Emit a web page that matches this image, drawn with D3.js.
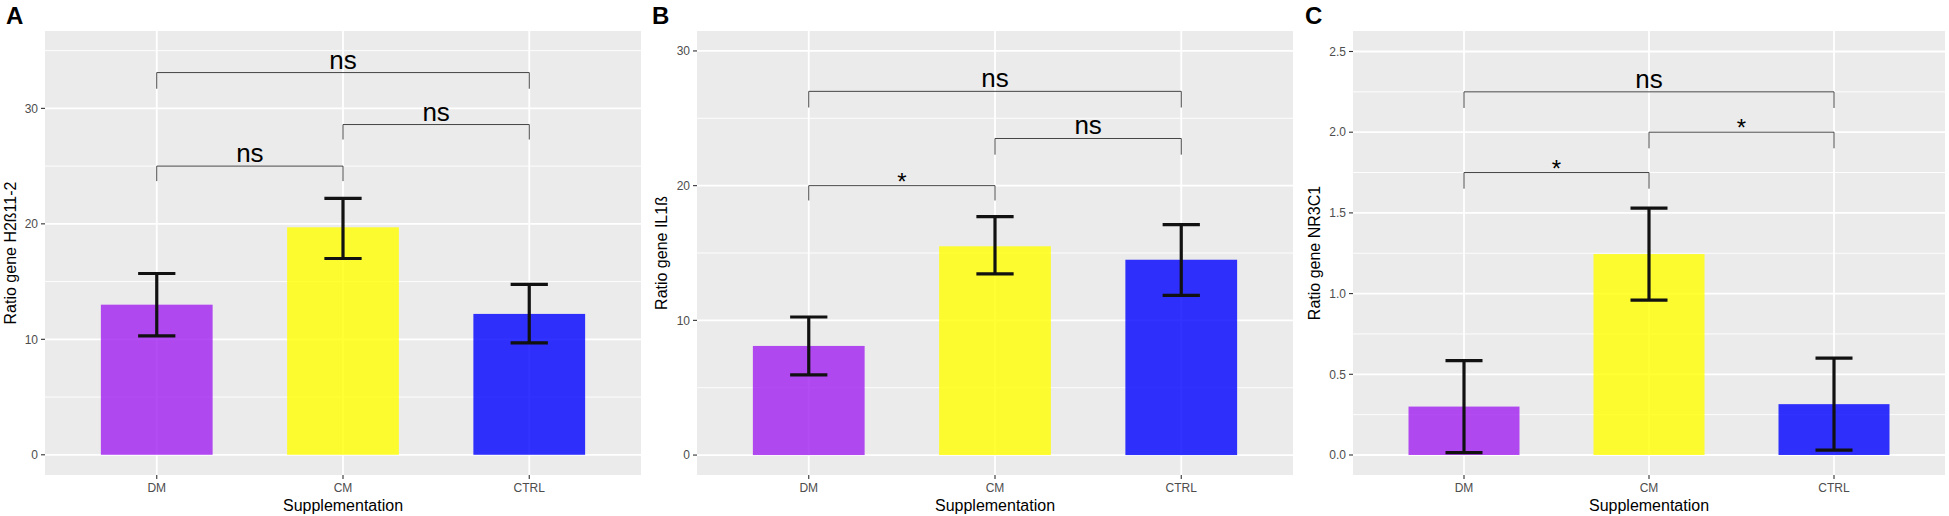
<!DOCTYPE html>
<html>
<head>
<meta charset="utf-8">
<script src="https://cdn.jsdelivr.net/npm/d3@7"></script>
<style>
  body { margin: 0; background: #fff; }
  svg text { font-family: "Liberation Sans", Arial, Helvetica, sans-serif; }
</style>
</head>
<body>
<svg id="chart" width="1949" height="516"></svg>
<script>
// Data
var groups = ["DM", "CM", "CTRL"];
var barColors = ["#A020F0", "#FFFF00", "#0000FF"];

// A: H2B11-2
var meanA = [13.0, 19.7, 12.2];
var upperA = [15.7, 22.2, 14.75];
var lowerA = [10.3, 17.0, 9.7];
var ticksA = [0, 10, 20, 30];
var minorA = [5, 15, 25, 35];
// bracket: [from, to, y, tip end, label]
var bracketsA = [
  ["DM", "CTRL", 33.1, 31.7, "ns"],
  ["DM", "CM", 25.0, 23.7, "ns"],
  ["CM", "CTRL", 28.6, 27.3, "ns"]
];

// B: IL1ß
var meanB = [8.1, 15.5, 14.5];
var upperB = [10.25, 17.7, 17.1];
var lowerB = [5.95, 13.45, 11.85];
var ticksB = [0, 10, 20, 30];
var minorB = [5, 15, 25];
var bracketsB = [
  ["DM", "CTRL", 27.0, 25.8, "ns"],
  ["CM", "CTRL", 23.5, 22.3, "ns"],
  ["DM", "CM", 20.0, 18.9, "*"]
];

// C: NR3C1
var meanC = [0.30, 1.245, 0.315];
var upperC = [0.585, 1.53, 0.60];
var lowerC = [0.015, 0.96, 0.03];
var ticksC = [0, 0.5, 1.0, 1.5, 2.0, 2.5];
var minorC = [0.25, 0.75, 1.25, 1.75, 2.25];
var bracketsC = [
  ["DM", "CTRL", 2.25, 2.15, "ns"],
  ["CM", "CTRL", 2.0, 1.9, "*"],
  ["DM", "CM", 1.75, 1.65, "*"]
];

var panels = [
  { letter: "A", left: 45, right: 641, letterX: 6, titleX: 16,
    yTitle: "Ratio gene H2\u00DF11-2", domain: [-1.75, 36.7],
    mean: meanA, upper: upperA, lower: lowerA, ticks: ticksA, minor: minorA,
    brackets: bracketsA, fmt: d3.format("d") },
  { letter: "B", left: 697, right: 1293, letterX: 652, titleX: 667,
    yTitle: "Ratio gene IL1\u00DF", domain: [-1.48, 31.48],
    mean: meanB, upper: upperB, lower: lowerB, ticks: ticksB, minor: minorB,
    brackets: bracketsB, fmt: d3.format("d") },
  { letter: "C", left: 1353, right: 1945, letterX: 1305, titleX: 1320,
    yTitle: "Ratio gene NR3C1", domain: [-0.124, 2.627],
    mean: meanC, upper: upperC, lower: lowerC, ticks: ticksC, minor: minorC,
    brackets: bracketsC, fmt: d3.format(".1f") }
];

var panelTop = 31, panelBottom = 475;
var svg = d3.select("#chart");

function drawPanel(p) {
  var g = svg.append("g");
  var x = d3.scalePoint().domain(groups).range([p.left, p.right]).padding(0.6);
  var step = x.step();
  var y = d3.scaleLinear().domain(p.domain).range([panelBottom, panelTop]);

  // panel background
  g.append("rect")
    .attr("x", p.left).attr("y", panelTop)
    .attr("width", p.right - p.left).attr("height", panelBottom - panelTop)
    .style("fill", "#EBEBEB");

  // grid
  g.selectAll(".minor").data(p.minor).enter().append("line")
    .attr("x1", p.left).attr("x2", p.right)
    .attr("y1", function(d) { return y(d); }).attr("y2", function(d) { return y(d); })
    .style("stroke", "#fff").style("stroke-width", 0.9);
  g.selectAll(".major").data(p.ticks).enter().append("line")
    .attr("x1", p.left).attr("x2", p.right)
    .attr("y1", function(d) { return y(d); }).attr("y2", function(d) { return y(d); })
    .style("stroke", "#fff").style("stroke-width", 1.8);
  g.selectAll(".vgrid").data(groups).enter().append("line")
    .attr("x1", function(d) { return x(d); }).attr("x2", function(d) { return x(d); })
    .attr("y1", panelTop).attr("y2", panelBottom)
    .style("stroke", "#fff").style("stroke-width", 1.8);

  // bars
  g.selectAll(".bar").data(groups).enter().append("rect")
    .attr("x", function(d) { return x(d) - step * 0.3; })
    .attr("width", step * 0.6)
    .attr("y", function(d, i) { return y(p.mean[i]); })
    .attr("height", function(d, i) { return y(0) - y(p.mean[i]); })
    .style("fill", function(d, i) { return barColors[i]; })
    .style("fill-opacity", 0.8);

  // error bars
  var err = g.selectAll(".err").data(groups).enter().append("g")
    .style("stroke", "#111").style("stroke-width", 3.2).style("fill", "none");
  err.append("line")
    .attr("x1", function(d) { return x(d); }).attr("x2", function(d) { return x(d); })
    .attr("y1", function(d, i) { return y(p.upper[i]); })
    .attr("y2", function(d, i) { return y(p.lower[i]); });
  err.append("line")
    .attr("x1", function(d) { return x(d) - step * 0.1; })
    .attr("x2", function(d) { return x(d) + step * 0.1; })
    .attr("y1", function(d, i) { return y(p.upper[i]); })
    .attr("y2", function(d, i) { return y(p.upper[i]); });
  err.append("line")
    .attr("x1", function(d) { return x(d) - step * 0.1; })
    .attr("x2", function(d) { return x(d) + step * 0.1; })
    .attr("y1", function(d, i) { return y(p.lower[i]); })
    .attr("y2", function(d, i) { return y(p.lower[i]); });

  // significance brackets
  var br = g.selectAll(".br").data(p.brackets).enter().append("g");
  br.append("path")
    .attr("d", function(d) {
      var x1 = x(d[0]), x2 = x(d[1]);
      return "M" + x1 + "," + y(d[3]) + "L" + x1 + "," + y(d[2]) +
             "L" + x2 + "," + y(d[2]) + "L" + x2 + "," + y(d[3]);
    })
    .style("fill", "none").style("stroke", "#444").style("stroke-width", 1);
  br.append("text")
    .attr("x", function(d) { return (x(d[0]) + x(d[1])) / 2; })
    .attr("y", function(d) { return y(d[2]) + (d[4] === "*" ? 4 : -4); })
    .attr("text-anchor", "middle")
    .style("font-size", function(d) { return d[4] === "*" ? "24px" : "26px"; })
    .style("fill", "#000")
    .text(function(d) { return d[4]; });

  // y axis
  var yAxis = g.append("g");
  yAxis.selectAll(".ytick").data(p.ticks).enter().append("line")
    .attr("x1", p.left - 4).attr("x2", p.left)
    .attr("y1", function(d) { return y(d); }).attr("y2", function(d) { return y(d); })
    .style("stroke", "#333").style("stroke-width", 1.1);
  yAxis.selectAll(".ylab").data(p.ticks).enter().append("text")
    .attr("x", p.left - 7)
    .attr("y", function(d) { return y(d) + 4.3; })
    .attr("text-anchor", "end")
    .style("font-size", "12px").style("fill", "#4D4D4D")
    .text(function(d) { return p.fmt(d); });

  // x axis
  var xAxis = g.append("g");
  xAxis.selectAll(".xtick").data(groups).enter().append("line")
    .attr("x1", function(d) { return x(d); }).attr("x2", function(d) { return x(d); })
    .attr("y1", panelBottom).attr("y2", panelBottom + 4)
    .style("stroke", "#333").style("stroke-width", 1.1);
  xAxis.selectAll(".xlab").data(groups).enter().append("text")
    .attr("x", function(d) { return x(d); })
    .attr("y", 492)
    .attr("text-anchor", "middle")
    .style("font-size", "12px").style("fill", "#4D4D4D")
    .text(function(d) { return d; });

  // titles
  g.append("text")
    .attr("x", (p.left + p.right) / 2).attr("y", 511)
    .attr("text-anchor", "middle")
    .style("font-size", "16px").style("fill", "#000")
    .text("Supplementation");
  g.append("text")
    .attr("transform", "translate(" + p.titleX + "," + ((panelTop + panelBottom) / 2) + ") rotate(-90)")
    .attr("text-anchor", "middle")
    .style("font-size", "16px").style("fill", "#000")
    .text(p.yTitle);
  g.append("text")
    .attr("x", p.letterX).attr("y", 24)
    .style("font-size", "24px").style("font-weight", "bold").style("fill", "#000")
    .text(p.letter);
}

panels.forEach(drawPanel);
</script>
</body>
</html>
